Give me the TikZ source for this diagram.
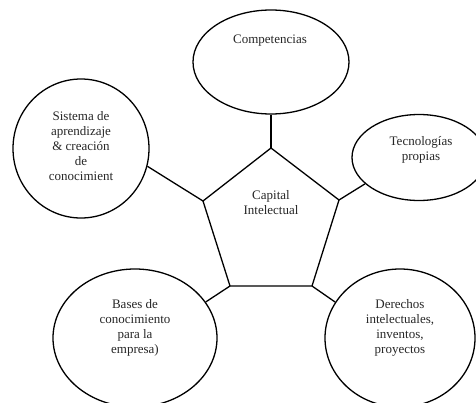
\documentclass[tikz,border=0pt]{standalone}
\usepackage{fontspec}
\setmainfont{Liberation Serif}
\usetikzlibrary{shapes.geometric}
\begin{document}
\begin{tikzpicture}[x=1pt,y=-1pt,
  ell/.style={draw, ellipse, line width=1.3pt, inner sep=0pt},
  txt/.style={align=center, font=\fontsize{13}{15}\selectfont, inner sep=0pt, text=black!85},
  conn/.style={line width=1.3pt}]
\useasboundingbox (0,0) rectangle (476,402);
\clip (0,0) rectangle (476,402);
% pentagon
\coordinate (p1) at (271,148);
\coordinate (p2) at (339,200);
\coordinate (p3) at (312,286);
\coordinate (p4) at (230,286);
\coordinate (p5) at (203,201);
\draw[conn, line join=miter] (p1) -- (p2) -- (p3) -- (p4) -- (p5) -- cycle;
\node[txt] (cap) at (271,202.5) {Capital\\Intelectual};
% ellipses
\node[ell, minimum width=156pt, minimum height=104pt] (comp) at (271,62) {};
\node[txt] (comptxt) at (270,41) {Competencias};
\node[ell, minimum width=136pt, minimum height=139pt] (sis) at (81,148.5) {};
\node[txt] (sistxt) at (81,146) {Sistema de\\aprendizaje\\\& creación\\de\\conocimient};
\node[ell, minimum width=134pt, minimum height=86pt] (tec) at (419,157.5) {};
\node[txt] (tectxt) at (421,150) {Tecnologías\\propias};
\node[ell, minimum width=164pt, minimum height=138pt] (bas) at (135,338) {};
\node[txt] (bastxt) at (135,328) {Bases de\\conocimiento\\para la\\empresa)};
\node[ell, minimum width=150pt, minimum height=138pt] (der) at (400,338) {};
\node[txt] (dertxt) at (400,328) {Derechos\\intelectuales,\\inventos,\\proyectos};
% connectors
\draw[conn] (comp.south) -- (p1);
\draw[conn] (sis.-15) -- (p5);
\draw[conn] (tec.206) -- (p2);
\draw[conn] (bas.27) -- (p4);
\draw[conn] (der.151) -- (p3);
\end{tikzpicture}
\end{document}
